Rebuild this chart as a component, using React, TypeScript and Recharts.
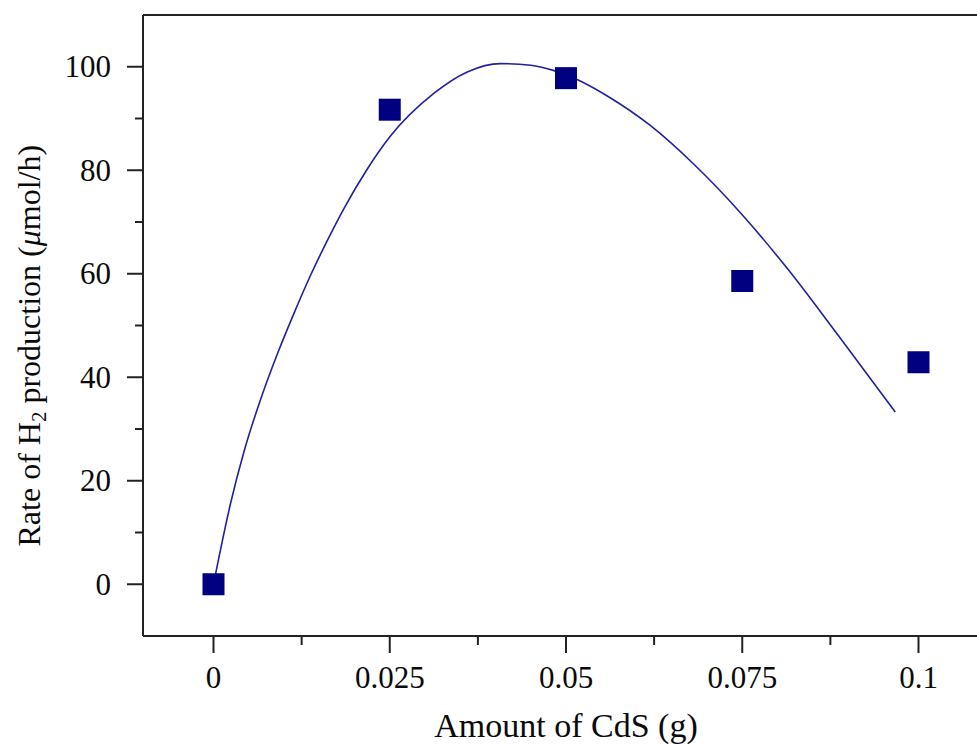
import React from 'react';
import {
  ComposedChart,
  Line,
  Scatter,
  XAxis,
  YAxis,
  Label,
  ReferenceLine,
} from 'recharts';

// Measured H2 evolution rate vs. amount of CdS
const cdsAmount = [0, 0.025, 0.05, 0.075, 0.1];
const h2Rate = [0, 91.7, 97.8, 58.6, 42.9];

// Fitted trend line, sampled along the curve
const fitX = [
  0, 0.0024, 0.0043, 0.0067, 0.009, 0.0114, 0.0138, 0.0161, 0.0185, 0.0218,
  0.0251, 0.0312, 0.036, 0.0407, 0.045, 0.0482, 0.0518, 0.0558, 0.062, 0.0681,
  0.0748, 0.0814, 0.0885, 0.0967,
];
const fitY = [
  0, 15.5, 25.5, 35.8, 44.3, 52.3, 59.8, 66.3, 72.6, 80.2, 86.6, 94.8, 99.0,
  100.6, 100.3, 99.3, 97.4, 94.4, 88.6, 81.2, 71.7, 61.0, 48.3, 33.3,
];

const xTicks = [0, 0.0125, 0.025, 0.0375, 0.05, 0.0625, 0.075, 0.0875, 0.1];
const xTickLabels: Record<string, string> = {
  '0': '0',
  '0.025': '0.025',
  '0.05': '0.05',
  '0.075': '0.075',
  '0.1': '0.1',
};
const yTicks = [0, 10, 20, 30, 40, 50, 60, 70, 80, 90, 100];

const measured = cdsAmount.map((x, i) => ({ x, y: h2Rate[i] }));
const fitCurve = fitX.map((x, i) => ({ x, y: fitY[i] }));

const FONT = '"Liberation Serif", "DejaVu Serif", serif';
const AXIS = '#222';
const TEXT = '#0a0a0a';

const PLOT_TOP = 15;
const X_AXIS_H = 110;
const CHART_H = 746;
const PLOT_H = CHART_H - PLOT_TOP - X_AXIS_H;

const SquareMarker = (props: any) => {
  const { cx, cy } = props;
  return <rect x={cx - 11} y={cy - 11} width={22} height={22} fill="#000080" />;
};

const XTick = (props: any) => {
  const { x, y, payload } = props;
  const label = xTickLabels[String(payload.value)];
  const major = label !== undefined;
  return (
    <g>
      <line x1={x} x2={x} y1={y} y2={y + (major ? 17 : 9)} stroke={AXIS} strokeWidth={2} />
      {major && (
        <text x={x} y={y + 52} textAnchor="middle" fontFamily={FONT} fontSize={31} fill={TEXT}>
          {label}
        </text>
      )}
    </g>
  );
};

const YTick = (props: any) => {
  const { x, y, payload } = props;
  const major = payload.value % 20 === 0;
  return (
    <g>
      <line x1={x - (major ? 16 : 8)} x2={x} y1={y} y2={y} stroke={AXIS} strokeWidth={2} />
      {major && (
        <text x={x - 32} y={y + 10.5} textAnchor="end" fontFamily={FONT} fontSize={31} fill={TEXT}>
          {payload.value}
        </text>
      )}
    </g>
  );
};

// rotated title, laid out from its start so the subscript shift can't skew the centring
const YTitle = () => {
  const cx = 40;
  const cy = PLOT_TOP + PLOT_H / 2 + 221;
  return (
    <text
      x={cx}
      y={cy}
      transform={`rotate(-90, ${cx}, ${cy})`}
      textAnchor="start"
      fontFamily={FONT}
      fontSize={32}
      fill={TEXT}
    >
      Rate of H
      <tspan fontSize={21} dy={6}>2</tspan>
      <tspan dy={-6}> production (</tspan>
      <tspan fontStyle="italic">μ</tspan>
      <tspan>mol/h)</tspan>
    </text>
  );
};

const XTitle = (props: any) => {
  const { viewBox } = props;
  return (
    <text
      x={viewBox.x + viewBox.width / 2}
      y={viewBox.y + 101}
      textAnchor="middle"
      fontFamily={FONT}
      fontSize={34}
      fill={TEXT}
    >
      Amount of CdS (g)
    </text>
  );
};

export default function App() {
  return (
    <div
      style={{
        position: 'absolute',
        left: 0,
        top: 0,
        width: 977,
        height: 746,
        overflow: 'hidden',
        background: '#fff',
      }}
    >
      <ComposedChart
        width={1000}
        height={CHART_H}
        margin={{ top: PLOT_TOP, right: 11, bottom: 0, left: 0 }}
      >
        <XAxis
          type="number"
          dataKey="x"
          domain={[-0.01, 0.11]}
          allowDataOverflow
          ticks={xTicks}
          interval={0}
          tick={<XTick />}
          tickLine={false}
          tickSize={0}
          tickMargin={0}
          height={X_AXIS_H}
          axisLine={{ stroke: AXIS, strokeWidth: 2 }}
        >
          <Label content={<XTitle />} />
        </XAxis>
        <YAxis
          type="number"
          domain={[-10, 110]}
          allowDataOverflow
          ticks={yTicks}
          interval={0}
          tick={<YTick />}
          tickLine={false}
          tickSize={0}
          tickMargin={0}
          width={143}
          axisLine={{ stroke: AXIS, strokeWidth: 2 }}
        >
          <Label content={<YTitle />} />
        </YAxis>
        <ReferenceLine y={110} stroke={AXIS} strokeWidth={2} />
        <Line
          data={fitCurve}
          dataKey="y"
          type="monotone"
          stroke="#2020a0"
          strokeWidth={1.6}
          dot={false}
          activeDot={false}
          isAnimationActive={false}
        />
        <Scatter
          data={measured}
          dataKey="y"
          shape={<SquareMarker />}
          isAnimationActive={false}
        />
      </ComposedChart>
    </div>
  );
}
